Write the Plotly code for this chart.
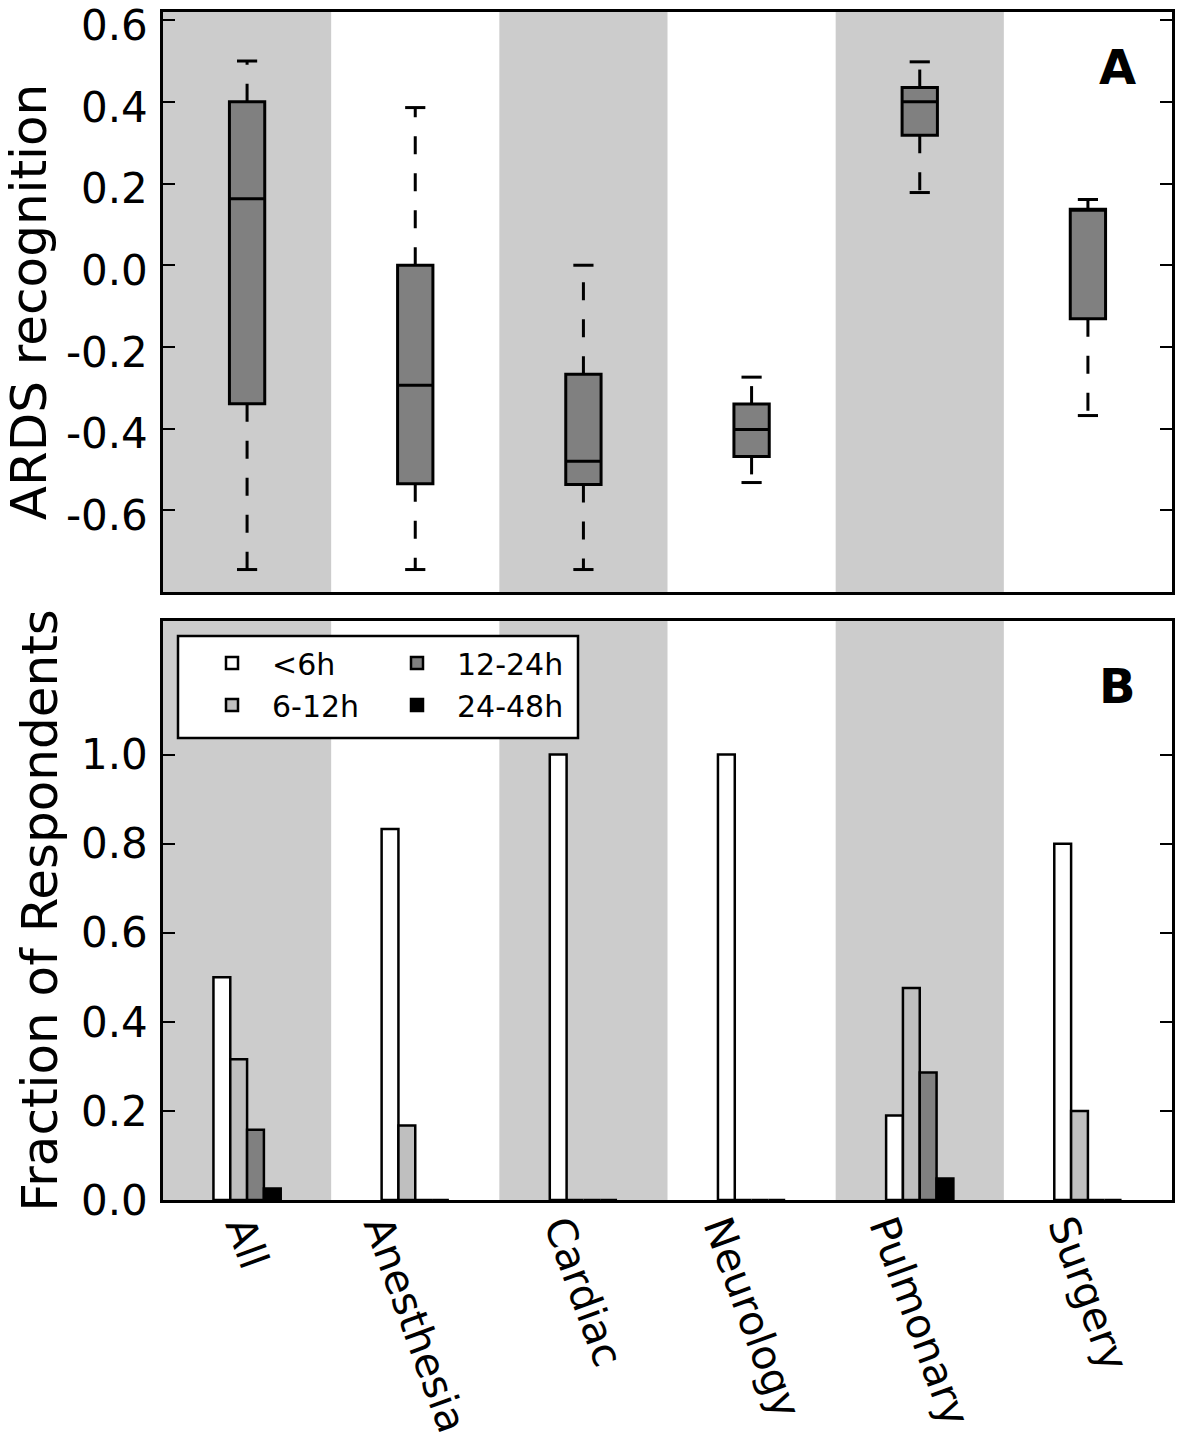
import plotly.graph_objects as go

# ---------------- data ----------------
categories = ["All", "Anesthesia", "Cardiac", "Neurology", "Pulmonary", "Surgery"]

# Panel A: box-plot statistics (ARDS recognition)
box_lower = [-0.745, -0.745, -0.745, -0.532, 0.178, -0.368]
box_q1 = [-0.339, -0.535, -0.537, -0.468, 0.318, -0.131]
box_median = [0.163, -0.294, -0.480, -0.402, 0.400, 0.137]
box_q3 = [0.400, 0.000, -0.267, -0.340, 0.435, 0.137]
box_upper = [0.500, 0.386, 0.000, -0.274, 0.498, 0.161]

# Panel B: fraction of respondents per time window
series_names = ["<6h", "6-12h", "12-24h", "24-48h"]
frac_lt6 = [0.500, 0.833, 1.000, 1.000, 0.190, 0.800]
frac_6_12 = [0.316, 0.167, 0.000, 0.000, 0.476, 0.200]
frac_12_24 = [0.158, 0.000, 0.000, 0.000, 0.286, 0.000]
frac_24_48 = [0.026, 0.000, 0.000, 0.000, 0.048, 0.000]

a_tickvals = [-0.6, -0.4, -0.2, 0.0, 0.2, 0.4, 0.6]
a_ticktext = ["-0.6", "-0.4", "-0.2", "0.0", "0.2", "0.4", "0.6"]
b_tickvals = [0.0, 0.2, 0.4, 0.6, 0.8, 1.0]
b_ticktext = ["0.0", "0.2", "0.4", "0.6", "0.8", "1.0"]

shaded = [True, False, True, False, True, False]

# ---------------- styling ----------------
FONT = "DejaVu Sans"
W, H = 1184, 1452
BOX_W = 0.21
CAP_HALF = 0.06
series_colors = ["#ffffff", "#bfbfbf", "#808080", "#000000"]
series_legend = ["legend", "legend", "legend2", "legend2"]

xs = list(range(len(categories)))

fig = go.Figure()

# Panel A boxes (whiskers drawn separately, dashed)
fig.add_trace(go.Box(
    x=xs, q1=box_q1, median=box_median, q3=box_q3,
    lowerfence=box_q1, upperfence=box_q3,
    width=BOX_W, whiskerwidth=0, boxpoints=False,
    fillcolor="#808080", line=dict(color="black", width=3),
    xaxis="x", yaxis="y", showlegend=False, hoverinfo="skip"))

wx, wy = [], []
cx, cy = [], []
for i in xs:
    wx += [i, i, None, i, i, None]
    wy += [box_q3[i], box_upper[i], None, box_q1[i], box_lower[i], None]
    cx += [i - CAP_HALF, i + CAP_HALF, None, i - CAP_HALF, i + CAP_HALF, None]
    cy += [box_upper[i], box_upper[i], None, box_lower[i], box_lower[i], None]

fig.add_trace(go.Scatter(x=wx, y=wy, mode="lines",
                         line=dict(color="black", width=3, dash="18px,19px"),
                         xaxis="x", yaxis="y", showlegend=False, hoverinfo="skip"))
fig.add_trace(go.Scatter(x=cx, y=cy, mode="lines",
                         line=dict(color="black", width=3),
                         xaxis="x", yaxis="y", showlegend=False, hoverinfo="skip"))

# Panel B bars
for name, vals, col, lg, rank in zip(series_names,
                                     [frac_lt6, frac_6_12, frac_12_24, frac_24_48],
                                     series_colors, series_legend, [1, 2, 3, 4]):
    fig.add_trace(go.Bar(x=xs, y=vals, name=name,
                         marker=dict(color=col, line=dict(color="black", width=2.5)),
                         xaxis="x2", yaxis="y2", legend=lg, legendrank=rank))

# background bands
shapes = []
for i, s in enumerate(shaded):
    if s:
        for xr, yr in (("x", "y domain"), ("x2", "y2 domain")):
            shapes.append(dict(type="rect", xref=xr, yref=yr, x0=i - 0.5, x1=i + 0.5,
                               y0=0, y1=1, fillcolor="#cccccc", line=dict(width=0),
                               layer="below"))
# legend frame
shapes.append(dict(type="rect", xref="paper", yref="paper",
                   x0=178 / W, x1=578 / W, y0=1 - 738 / H, y1=1 - 636 / H,
                   fillcolor="white", line=dict(color="black", width=2.5), layer="above"))

xdom = [163 / W, 1172 / W]
axis_common = dict(showline=True, linecolor="black", linewidth=2.5, mirror=True,
                   showgrid=False, zeroline=False, automargin=False)
yaxis_common = dict(axis_common, ticks="inside", ticklen=12, tickwidth=1.5,
                    tickcolor="black", mirror="ticks", ticklabelstandoff=4,
                    ticklabeloverflow="allow",
                    tickfont=dict(family=FONT, size=42, color="black"))

annotations = [
    dict(text="<b>A</b>", xref="x domain", yref="y domain", x=0.9455, y=0.905,
         xanchor="center", yanchor="middle", showarrow=False,
         font=dict(family=FONT, size=48, color="black")),
    dict(text="<b>B</b>", xref="x2 domain", yref="y2 domain", x=0.9455, y=0.888,
         xanchor="center", yanchor="middle", showarrow=False,
         font=dict(family=FONT, size=48, color="black")),
]
for i, c in enumerate(categories):
    annotations.append(dict(text=c, xref="x2", yref="y2 domain", x=i, y=0,
                            xanchor="center", yanchor="top", yshift=-8,
                            textangle=70, showarrow=False,
                            font=dict(family=FONT, size=41, color="black")))

fig.update_layout(
    width=W, height=H, margin=dict(l=0, r=0, t=0, b=0, autoexpand=False),
    paper_bgcolor="white", plot_bgcolor="white",
    font=dict(family=FONT, color="black"),
    barmode="group", bargap=0.6, bargroupgap=0,
    xaxis=dict(axis_common, domain=xdom, range=[-0.5, 5.5], anchor="y",
               showticklabels=False, ticks=""),
    yaxis=dict(yaxis_common, domain=[1 - 592 / H, 1 - 12 / H], range=[-0.8, 0.62],
               anchor="x", tickvals=a_tickvals, ticktext=a_ticktext,
               ticklabelshift=5,
               title=dict(text="ARDS recognition", standoff=8,
                          font=dict(family=FONT, size=50, color="black"))),
    xaxis2=dict(axis_common, domain=xdom, range=[-0.5, 5.5], anchor="y2",
                showticklabels=False, ticks=""),
    yaxis2=dict(yaxis_common, domain=[1 - 1200 / H, 1 - 621 / H], range=[0, 1.3],
                anchor="x2", tickvals=b_tickvals, ticktext=b_ticktext,
                title=dict(text="Fraction of Respondents", standoff=8,
                           font=dict(family=FONT, size=50, color="black"))),
    legend=dict(x=192 / W, y=1 - 637 / H, xanchor="left", yanchor="top",
                bgcolor="rgba(0,0,0,0)", borderwidth=0, itemwidth=70,
                font=dict(family=FONT, size=30, color="black"), tracegroupgap=0),
    legend2=dict(x=377 / W, y=1 - 637 / H, xanchor="left", yanchor="top",
                 bgcolor="rgba(0,0,0,0)", borderwidth=0, itemwidth=70,
                 font=dict(family=FONT, size=30, color="black"), tracegroupgap=0),
    shapes=shapes, annotations=annotations,
)

fig.write_html("out.html", config={"displayModeBar": False},
               post_script="document.body.style.margin='0';"
                           "document.body.style.overflow='hidden';")
